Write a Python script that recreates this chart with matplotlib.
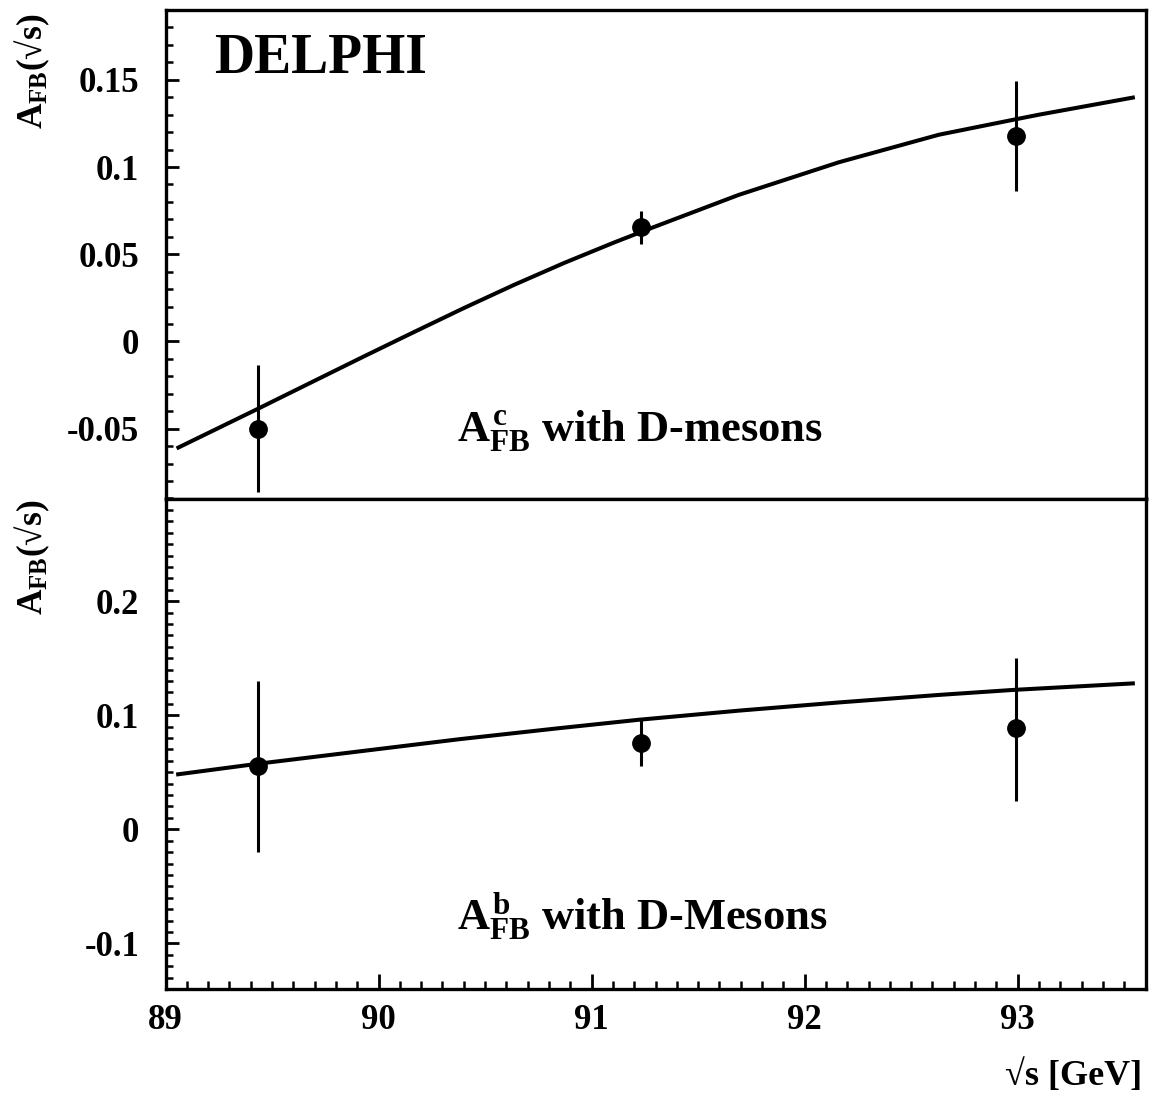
import matplotlib
matplotlib.use("Agg")
import matplotlib.pyplot as plt
from matplotlib.ticker import FixedLocator, MultipleLocator, FixedFormatter

plt.rcParams['font.family'] = ['Liberation Serif', 'DejaVu Serif']
plt.rcParams['font.weight'] = 'bold'
plt.rcParams['mathtext.fontset'] = 'custom'
plt.rcParams['mathtext.rm'] = 'Liberation Serif:bold'
plt.rcParams['mathtext.it'] = 'Liberation Serif:bold'
plt.rcParams['mathtext.bf'] = 'Liberation Serif:bold'
plt.rcParams['axes.unicode_minus'] = False

# ---- data ----
energy = [89.435, 91.23, 92.99]
afb_c = [-0.0500, 0.0655, 0.1180]
afb_c_err_lo = [0.0360, 0.0094, 0.0316]
afb_c_err_hi = [0.0365, 0.0093, 0.0315]
afb_b = [0.0555, 0.0757, 0.0886]
afb_b_err_lo = [0.0755, 0.0199, 0.0642]
afb_b_err_hi = [0.0745, 0.0197, 0.0620]

curve_x = [89.052, 89.435, 89.70, 89.934, 90.168, 90.403, 90.637, 90.871, 91.105,
           91.269, 91.69, 92.16, 92.63, 92.98, 93.10, 93.55]
curve_c = [-0.0613, -0.0385, -0.0225, -0.0084, 0.0055, 0.0193, 0.0325, 0.0450, 0.0567,
           0.0645, 0.0840, 0.1027, 0.1185, 0.1271, 0.1300, 0.1400]
curve_bx = [89.05, 89.435, 90.38, 90.84, 91.22, 91.69, 92.16, 92.63, 92.98, 93.55]
curve_b = [0.0480, 0.0575, 0.0790, 0.0885, 0.0960, 0.1040, 0.1112, 0.1178, 0.1222, 0.1280]

top_yticks = [-0.05, 0, 0.05, 0.1, 0.15]
top_ylabels = ['-0.05', '0', '0.05', '0.1', '0.15']
bot_yticks = [-0.1, 0, 0.1, 0.2]
bot_ylabels = ['-0.1', '0', '0.1', '0.2']
xticks = [89, 90, 91, 92, 93]
xlabels = ['89', '90', '91', '92', '93']

W, H = 1149, 1097
fig = plt.figure(figsize=(W / 100, H / 100), dpi=100)
left = 165.5 / W
right = 1145.5 / W
y_top = 1 - 10 / H
y_mid = 1 - 498.5 / H
y_bot = 1 - 989 / H
ax1 = fig.add_axes([left, y_mid, right - left, y_top - y_mid])
ax2 = fig.add_axes([left, y_bot, right - left, y_mid - y_bot])

FRAME_LW = 2.4
TICK_FS = 25

for ax in (ax1, ax2):
    ax.set_xlim(89, 93.6)
    for s in ax.spines.values():
        s.set_linewidth(FRAME_LW)
    ax.tick_params(axis='y', which='major', direction='in', length=9, width=2.0,
                   labelsize=TICK_FS, pad=19, right=False)
    ax.tick_params(axis='y', which='minor', direction='in', length=5, width=1.8, right=False)
    ax.yaxis.set_minor_locator(MultipleLocator(0.01))

# top panel
ax1.set_ylim(-0.09, 0.19)
ax1.plot(curve_x, curve_c, color='black', lw=2.9, solid_capstyle='butt',
         solid_joinstyle='round')
ax1.errorbar(energy, afb_c, yerr=[afb_c_err_lo, afb_c_err_hi], fmt='o', color='black',
             ms=12.5, elinewidth=2.2, capsize=0)
ax1.yaxis.set_major_locator(FixedLocator(top_yticks))
ax1.yaxis.set_major_formatter(FixedFormatter(top_ylabels))
ax1.tick_params(axis='x', which='both', bottom=False, top=False, labelbottom=False)
ax1.text(89.23, 0.154, 'DELPHI', fontsize=40, fontweight='bold', ha='left', va='baseline')
ax1.text(90.37, -0.057, r'$A_{FB}^{c}$ with D-mesons', fontsize=32, fontweight='bold',
         ha='left', va='baseline')

# bottom panel
ax2.set_ylim(-0.14, 0.29)
ax2.plot(curve_bx, curve_b, color='black', lw=2.9, solid_capstyle='butt',
         solid_joinstyle='round')
ax2.errorbar(energy, afb_b, yerr=[afb_b_err_lo, afb_b_err_hi], fmt='o', color='black',
             ms=12.5, elinewidth=2.2, capsize=0)
ax2.yaxis.set_major_locator(FixedLocator(bot_yticks))
ax2.yaxis.set_major_formatter(FixedFormatter(bot_ylabels))
ax2.xaxis.set_major_locator(FixedLocator(xticks))
ax2.xaxis.set_major_formatter(FixedFormatter(xlabels))
ax2.xaxis.set_minor_locator(MultipleLocator(0.1))
ax2.tick_params(axis='x', which='major', direction='in', length=11, width=2.0,
                labelsize=TICK_FS, pad=11, top=False)
ax2.tick_params(axis='x', which='minor', direction='in', length=5.5, width=1.8, top=False)
ax2.text(90.37, -0.089, r'$A_{FB}^{b}$ with D-Mesons', fontsize=32, fontweight='bold',
         ha='left', va='baseline')

for ax in (ax1, ax2):
    for lab in ax.get_xticklabels() + ax.get_yticklabels():
        lab.set_fontweight('bold')

# axis titles
ylab = r'$A_{FB}$(√s)'
fig.text(32 / W, 1 - 14 / H, ylab, rotation=90, fontsize=25.5, fontweight='bold',
         ha='center', va='top')
fig.text(32 / W, 1 - 500 / H, ylab, rotation=90, fontsize=25.5, fontweight='bold',
         ha='center', va='top')
fig.text(1142 / W, 1 - 1076 / H, '√s [GeV]', fontsize=26, fontweight='bold',
         ha='right', va='center')

fig.savefig('out.png', dpi=100)
